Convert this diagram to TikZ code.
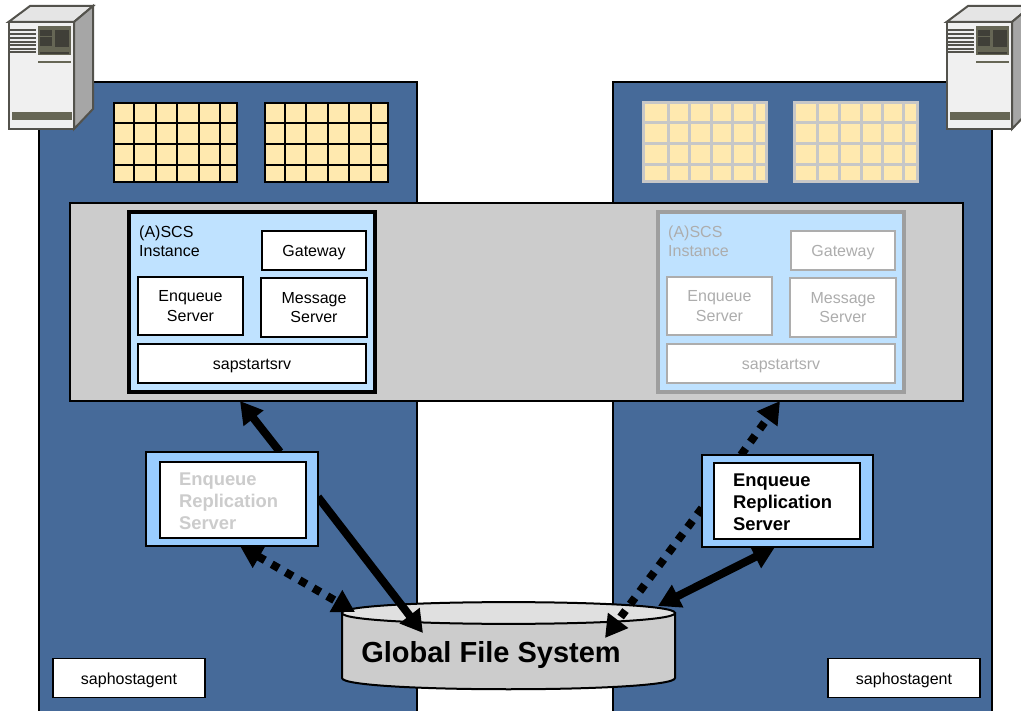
\documentclass[tikz,border=0pt]{standalone}
\usepackage{fontspec}
\setmainfont{Liberation Sans}
\usetikzlibrary{arrows.meta}
\pgfdeclarelayer{panels}
\pgfdeclarelayer{links}
\pgfsetlayers{panels,links,main}
\definecolor{panelblue}{HTML}{466A99}
\definecolor{bandgray}{HTML}{CCCCCC}
\definecolor{ascsblue}{HTML}{BFE2FF}
\definecolor{ersblue}{HTML}{99CCFF}
\definecolor{cellyellow}{HTML}{FFE9AF}
\definecolor{fadegray}{HTML}{ADADAD}
\definecolor{srvdark}{HTML}{666655}
\definecolor{srvink}{HTML}{403F38}
\tikzset{
  boxA/.style={draw=black,fill=white,line width=2pt,outer sep=0pt,inner sep=0pt,font=\fontsize{16}{19.5}\selectfont,align=center},
  boxB/.style={boxA,draw=fadegray,text=fadegray},
  oneline/.style={text height=13pt,text depth=0pt},
  twoline/.style={execute at begin node={\rule{0pt}{18pt}}},
  ersO/.style={draw=black,fill=ersblue,line width=2.4pt,outer sep=0pt,inner sep=0pt},
  ersI/.style={draw=black,fill=white,line width=2.6pt,outer sep=0pt,inner xsep=19pt,inner ysep=0pt,text width=108pt,align=left,font=\fontsize{18.4}{22}\selectfont\bfseries,execute at begin node={\rule{0pt}{14.8pt}}},
  solidlink/.style={line width=8pt},
  dotlink/.style={line width=8pt,dash pattern=on 8pt off 8pt},
  tipA/.style={-{Triangle[length=22pt,width=24pt]}},
  tipB/.style={{Triangle[length=22pt,width=24pt]}-{Triangle[length=22pt,width=24pt]}}
}
% server box, top left corner of the front at #1,#2
\newcommand{\srvbox}[2]{
\begin{scope}[shift={(#1,#2)}]
\draw[draw=srvink!90,line width=2pt,fill=black!10] (0,0)--(21.5,-16)--(84.5,-16)--(65.5,0)--cycle;
\draw[draw=srvink!90,line width=2pt,fill=black!35] (65.5,0)--(84.5,-16)--(84.5,87)--(65.5,107)--cycle;
\draw[draw=srvink!90,line width=2pt,fill=black!6] (0,0) rectangle (65.5,107);
\foreach \ly in {8,12,16,20,23,27,30}
  \fill[srvink!90] (1.5,\ly-.9) rectangle (27.5,\ly+.9);
\fill[srvdark] (29.5,4) rectangle (62.5,33);
\fill[srvink] (31.5,8) rectangle (43.5,14);
\fill[srvink] (31.5,15) rectangle (43.5,24);
\fill[srvink] (46.5,8) rectangle (60.5,25);
\fill[srvink] (31.5,30) rectangle (60.5,32);
\fill[srvdark] (29.5,39) rectangle (62.5,41);
\fill[srvdark] (3.5,90) rectangle (63.5,98);
\end{scope}
}
% yellow table, #1,#2 is the top left corner, #3 line look, #4 x of the lines
\newcommand{\cellgrid}[4]{
\begin{scope}[shift={(#1,#2)}]
\fill[cellyellow] (0,0) rectangle (123,79);
\foreach \gx in {#4}
  \draw[#3] (\gx,0)--(\gx,79);
\foreach \gy in {20,41,62}
  \draw[#3] (0,\gy)--(123,\gy);
\draw[#3] (0,0) rectangle (123,79);
\end{scope}
}

\begin{document}
\begin{tikzpicture}[x=1pt,y=-1pt]
\useasboundingbox (0,0) rectangle (1021,711);

\begin{pgfonlayer}{panels}
\draw[fill=panelblue,line width=2pt] (39,82) rectangle (417,716);
\draw[fill=panelblue,line width=2pt] (613,82) rectangle (992,716);
\draw[fill=bandgray,line width=2pt] (70,203) rectangle (963,401);
\node[inner sep=0pt,outer sep=0pt,minimum width=893pt,minimum height=198pt] (band) at (516.5,302) {};
% file system drum
\draw[fill=bandgray,line width=2pt] (342,613)--(342,678) .. controls (342,693) and (675,693) .. (675,678)--(675,613)--cycle;
\draw[fill=black!12,line width=2pt] (342,613) .. controls (342,598.5) and (675,598.5) .. (675,613) .. controls (675,627.5) and (342,627.5) .. cycle;
\end{pgfonlayer}

\srvbox{8.5}{22}
\srvbox{946.5}{22}

\cellgrid{114}{103}{black,line width=2.6pt}{20,42,63,85,106}
\cellgrid{265}{103}{black,line width=2.6pt}{20,41,63,84,106}
\cellgrid{643}{103}{black!22,line width=3pt}{25,46,68,89,111}
\cellgrid{794}{103}{black!22,line width=3pt}{23,45,67,88,109}

% left instance
\node[draw=black,fill=ascsblue,line width=3.5pt,outer sep=0pt,minimum width=246pt,minimum height=180pt] (ascsA) at (252,302) {};
\node[anchor=west,align=left,inner sep=0pt,font=\fontsize{16}{19}\selectfont] (ascsAname) at (139,241.5) {(A)SCS\\Instance};
\node[boxA,oneline,minimum width=104pt,minimum height=39pt] (gwA) at (314,250.5) {Gateway};
\node[boxA,twoline,minimum width=105pt,minimum height=58pt] (enqA) at (190.5,306) {Enqueue\\Server};
\node[boxA,twoline,minimum width=106pt,minimum height=59pt] (msgA) at (314,307.5) {Message\\Server};
\node[boxA,oneline,minimum width=228pt,minimum height=39pt] (srvA) at (252,363.5) {sapstartsrv};

% right instance
\node[draw=black!38,fill=ascsblue,line width=3.5pt,outer sep=0pt,minimum width=246pt,minimum height=180pt] (ascsB) at (781,302) {};
\node[anchor=west,align=left,inner sep=0pt,text=fadegray,font=\fontsize{16}{19}\selectfont] (ascsBname) at (668,241.5) {(A)SCS\\Instance};
\node[boxB,oneline,minimum width=104pt,minimum height=39pt] (gwB) at (843,250.5) {Gateway};
\node[boxB,twoline,minimum width=105pt,minimum height=58pt] (enqB) at (719.5,306) {Enqueue\\Server};
\node[boxB,twoline,minimum width=106pt,minimum height=59pt] (msgB) at (843,307.5) {Message\\Server};
\node[boxB,oneline,minimum width=228pt,minimum height=39pt] (srvB) at (781,363.5) {sapstartsrv};

% replication servers
\node[ersO,minimum width=172pt,minimum height=94pt] (ersA) at (232,499) {};
\node[ersI,minimum height=76pt,text=black!20] (ersAtext) at (233,500) {Enqueue\\Replication\\Server};
\node[ersO,minimum width=171pt,minimum height=92pt] (ersB) at (787.5,501) {};
\node[ersI,minimum height=76pt] (ersBtext) at (787,501) {Enqueue\\Replication\\Server};

\node[boxA,oneline,minimum width=152pt,minimum height=39pt,line width=1.2pt] (hostA) at (129,678) {saphostagent};
\node[boxA,oneline,minimum width=152pt,minimum height=39pt,line width=1.2pt] (hostB) at (904,678) {saphostagent};

\node[inner sep=0pt,outer sep=0pt,minimum width=333pt,minimum height=88pt,font=\fontsize{29}{32}\selectfont\bfseries] (gfs) at (491,655) {Global File System};

\coordinate (gfsA) at (423,633);
\coordinate (gfsB) at (355,612);
\coordinate (gfsC) at (605,638);
\coordinate (gfsD) at (658,606);

\begin{pgfonlayer}{links}
\draw[solidlink,tipA] ([xshift=134pt]ersA.north west)--([xshift=170pt]band.south west);
\draw[solidlink,tipA] ([yshift=2pt]ersA.east)--(gfsA);
\draw[dotlink,tipB] ([xshift=94pt]ersA.south west)--(gfsB);
\draw[dotlink,tipA] ([xshift=39pt]ersB.north west)--([xshift=710pt]band.south west);
\draw[dotlink,tipA] ([yshift=-7pt]ersB.west)--(gfsC);
\draw[solidlink,tipB] ([xshift=73pt]ersB.south west)--(gfsD);
\end{pgfonlayer}
\end{tikzpicture}
\end{document}
